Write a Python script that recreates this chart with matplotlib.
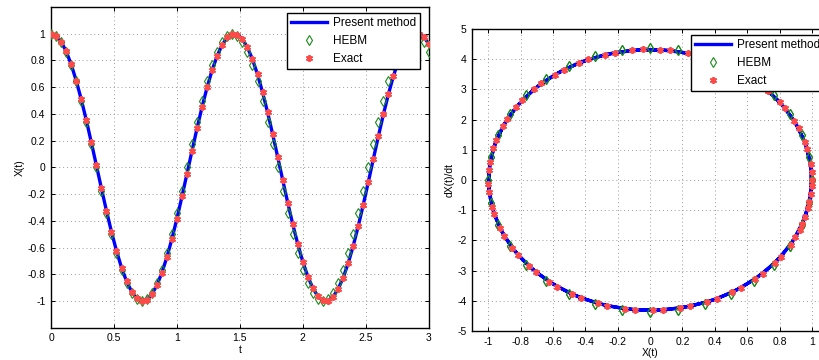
import numpy as np
import matplotlib
matplotlib.use("Agg")
import matplotlib.pyplot as plt

plt.rcParams['font.family'] = ['Liberation Sans', 'DejaVu Sans']

# time samples (s)
t = [0.00, 0.04, 0.08, 0.12, 0.16, 0.20, 0.24, 0.28, 0.32, 0.36,
     0.40, 0.44, 0.48, 0.52, 0.56, 0.60, 0.64, 0.68, 0.72, 0.76,
     0.80, 0.84, 0.88, 0.92, 0.96, 1.00, 1.04, 1.08, 1.12, 1.16,
     1.20, 1.24, 1.28, 1.32, 1.36, 1.40, 1.44, 1.48, 1.52, 1.56,
     1.60, 1.64, 1.68, 1.72, 1.76, 1.80, 1.84, 1.88, 1.92, 1.96,
     2.00, 2.04, 2.08, 2.12, 2.16, 2.20, 2.24, 2.28, 2.32, 2.36,
     2.40, 2.44, 2.48, 2.52, 2.56, 2.60, 2.64, 2.68, 2.72, 2.76,
     2.80, 2.84, 2.88, 2.92, 2.96, 3.00]

# exact solution (also the present method curve)
x_exact = [1.000, 0.985, 0.941, 0.869, 0.771, 0.649, 0.509, 0.354, 0.187, 0.016,
           -0.156, -0.324, -0.482, -0.625, -0.750, -0.853, -0.930, -0.979, -1.000, -0.990,
           -0.951, -0.884, -0.790, -0.673, -0.536, -0.383, -0.218, -0.047, 0.125, 0.294,
           0.454, 0.600, 0.729, 0.836, 0.918, 0.972, 0.998, 0.994, 0.960, 0.898,
           0.809, 0.696, 0.562, 0.412, 0.249, 0.079, -0.094, -0.264, -0.426, -0.575,
           -0.707, -0.818, -0.905, -0.965, -0.996, -0.997, -0.969, -0.911, -0.827, -0.718,
           -0.588, -0.440, -0.279, -0.110, 0.063, 0.233, 0.397, 0.549, 0.685, 0.800,
           0.891, 0.956, 0.992, 0.999, 0.976, 0.924]
v_exact = [0.00, -0.74, -1.46, -2.14, -2.75, -3.28, -3.72, -4.04, -4.24, -4.32,
           -4.27, -4.09, -3.79, -3.37, -2.86, -2.26, -1.59, -0.88, -0.14, 0.61,
           1.33, 2.02, 2.65, 3.20, 3.65, 3.99, 4.22, 4.32, 4.29, 4.13,
           3.85, 3.45, 2.96, 2.37, 1.72, 1.01, 0.27, -0.47, -1.21, -1.90,
           -2.54, -3.10, -3.57, -3.94, -4.18, -4.31, -4.30, -4.17, -3.91, -3.53,
           -3.05, -2.48, -1.84, -1.14, -0.41, 0.34, 1.07, 1.78, 2.43, 3.01,
           3.49, 3.88, 4.15, 4.29, 4.31, 4.20, 3.96, 3.61, 3.15, 2.59,
           1.96, 1.27, 0.54, -0.20, -0.94, -1.65]

# HEBM solution
x_hebm = [1.000, 0.985, 0.940, 0.866, 0.766, 0.643, 0.500, 0.342, 0.174, 0.000,
          -0.174, -0.342, -0.500, -0.643, -0.766, -0.866, -0.940, -0.985, -1.000, -0.985,
          -0.940, -0.866, -0.766, -0.643, -0.500, -0.342, -0.174, 0.000, 0.174, 0.342,
          0.500, 0.643, 0.766, 0.866, 0.940, 0.985, 1.000, 0.985, 0.940, 0.866,
          0.766, 0.643, 0.500, 0.342, 0.174, 0.000, -0.174, -0.342, -0.500, -0.643,
          -0.766, -0.866, -0.940, -0.985, -1.000, -0.985, -0.940, -0.866, -0.766, -0.643,
          -0.500, -0.342, -0.174, 0.000, 0.174, 0.342, 0.500, 0.643, 0.766, 0.866,
          0.940, 0.985, 1.000, 0.985, 0.940, 0.866]
v_hebm = [0.00, -0.76, -1.49, -2.18, -2.80, -3.34, -3.78, -4.10, -4.29, -4.36,
          -4.29, -4.10, -3.78, -3.34, -2.80, -2.18, -1.49, -0.76, 0.00, 0.76,
          1.49, 2.18, 2.80, 3.34, 3.78, 4.10, 4.29, 4.36, 4.29, 4.10,
          3.78, 3.34, 2.80, 2.18, 1.49, 0.76, 0.00, -0.76, -1.49, -2.18,
          -2.80, -3.34, -3.78, -4.10, -4.29, -4.36, -4.29, -4.10, -3.78, -3.34,
          -2.80, -2.18, -1.49, -0.76, 0.00, 0.76, 1.49, 2.18, 2.80, 3.34,
          3.78, 4.10, 4.29, 4.36, 4.29, 4.10, 3.78, 3.34, 2.80, 2.18,
          1.49, 0.76, 0.00, -0.76, -1.49, -2.18]

fs = 7.5
line_kw = dict(color='#0000ff', lw=2.4, zorder=2)
hebm_kw = dict(ls='none', marker='d', ms=5.2, mfc='none', mec='#1a8a1a', mew=0.8, zorder=3)
exact_kw = dict(ls='none', marker=(6, 2, 0), ms=5, mec='#ff4a4a', mew=1.3, zorder=4)
leg_kw = dict(loc='upper left', fontsize=8.5, handlelength=3.0, frameon=True, fancybox=False,
              edgecolor='black', framealpha=1, borderpad=0.35, labelspacing=0.5,
              handletextpad=0.5, borderaxespad=0)


def style(ax):
    ax.grid(True, ls=(0, (1, 3)), color='#999999', lw=0.7)
    ax.tick_params(direction='in', top=True, right=True, labelsize=fs, length=3, width=0.7, pad=4)
    for s in ax.spines.values():
        s.set_linewidth(1.0)


fig = plt.figure(figsize=(8.19, 3.6), dpi=100)

ax1 = fig.add_axes([0.0623, 0.0897, 0.4612, 0.8908])
ax1.plot(t, x_exact, label='Present method', **line_kw)
ax1.plot(t, x_hebm, label='HEBM', **hebm_kw)
ax1.plot(t, x_exact, label='Exact', **exact_kw)
ax1.set_xlim(0, 3)
ax1.set_ylim(-1.2, 1.2)
ax1.set_xticks(np.arange(0, 3.01, 0.5))
ax1.set_xticklabels(['0', '0.5', '1', '1.5', '2', '2.5', '3'])
ax1.set_yticks(np.arange(-1, 1.01, 0.2))
ax1.set_yticklabels(['-1', '-0.8', '-0.6', '-0.4', '-0.2', '0', '0.2', '0.4', '0.6', '0.8', '1'])
ax1.set_xlabel('t', fontsize=fs, labelpad=1)
ax1.set_ylabel('X(t)', fontsize=fs, labelpad=2)
style(ax1)
ax1.legend(bbox_to_anchor=(0.625, 0.982), **leg_kw).get_frame().set_linewidth(1.0)

ax2 = fig.add_axes([0.5767, 0.0806, 0.4343, 0.839])
ax2.plot(x_exact, v_exact, label='Present method', **line_kw)
ax2.plot(x_hebm, v_hebm, label='HEBM', **hebm_kw)
ax2.plot(x_exact, v_exact, label='Exact', **exact_kw)
ax2.set_xlim(-1.1, 1.1)
ax2.set_ylim(-5, 5)
ax2.set_xticks(np.arange(-1, 1.01, 0.2))
ax2.set_xticklabels(['-1', '-0.8', '-0.6', '-0.4', '-0.2', '0', '0.2', '0.4', '0.6', '0.8', '1'])
ax2.set_yticks(np.arange(-5, 5.01, 1))
ax2.set_yticklabels([str(v) for v in range(-5, 6)])
ax2.set_xlabel('X(t)', fontsize=fs, labelpad=1)
ax2.set_ylabel('dX(t)/dt', fontsize=fs, labelpad=2)
style(ax2)
ax2.legend(bbox_to_anchor=(0.615, 0.98), **leg_kw).get_frame().set_linewidth(1.0)

fig.savefig('out.png', dpi=100)
